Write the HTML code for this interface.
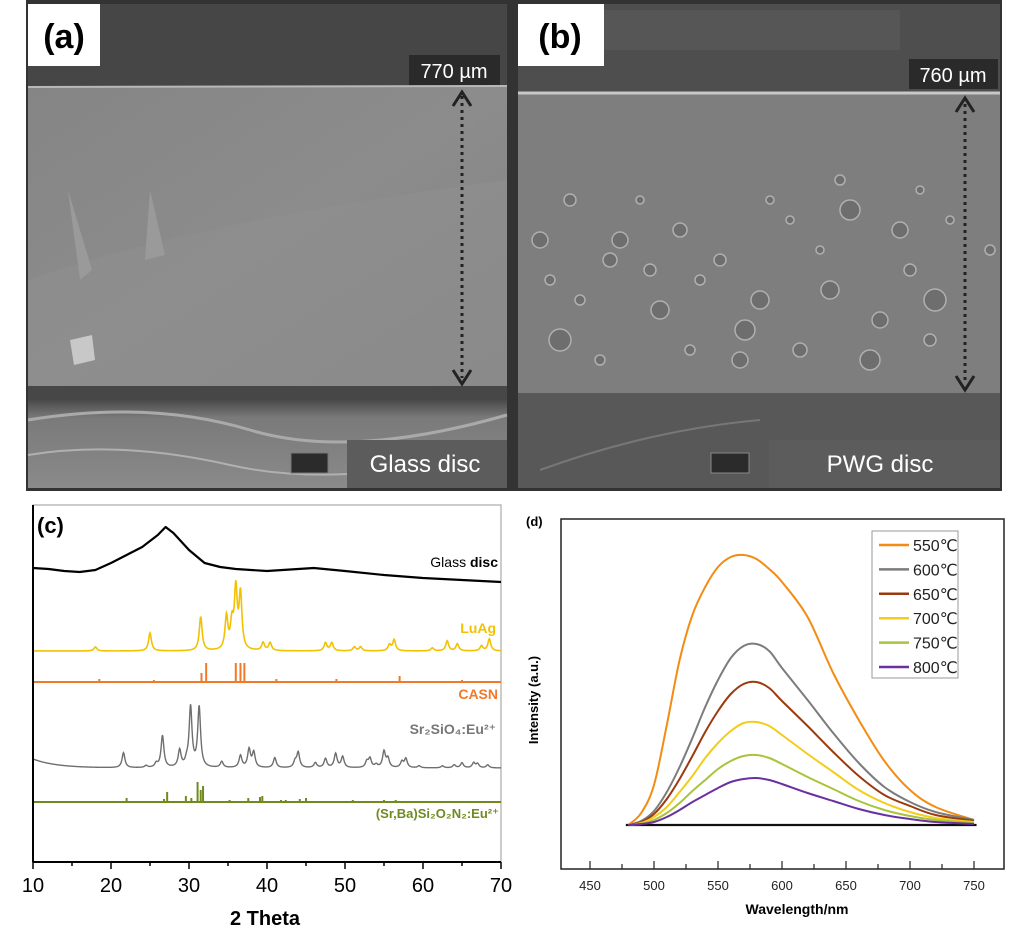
<!DOCTYPE html>
<html><head><meta charset="utf-8"><style>
html,body{margin:0;padding:0;background:#fff;width:1017px;height:941px;overflow:hidden}
svg{display:block}
text{font-family:"Liberation Sans","DejaVu Sans",sans-serif}
</style></head><body>
<svg id="fig" width="1017" height="941" viewBox="0 0 1017 941" xmlns="http://www.w3.org/2000/svg">
<defs>
<linearGradient id="gDiscA" x1="0" y1="0" x2="1" y2="1"><stop offset="0" stop-color="#858585"/><stop offset="0.5" stop-color="#8c8c8c"/><stop offset="1" stop-color="#828282"/></linearGradient>
<linearGradient id="gBotA" x1="0" y1="0" x2="0" y2="1"><stop offset="0" stop-color="#4a4a4a"/><stop offset="0.2" stop-color="#7a7a7a"/><stop offset="1" stop-color="#8a8a8a"/></linearGradient>
</defs>
<!-- SEM panel frame -->
<rect x="26" y="0" width="976" height="491" fill="#333"/>
<!-- Panel a -->
<g>
<rect x="28" y="4" width="479" height="484" fill="#555"/>
<rect x="28" y="4" width="479" height="84" fill="#464646"/>
<rect x="28" y="86" width="479" height="303" fill="url(#gDiscA)"/>
<line x1="28" y1="87" x2="507" y2="86" stroke="#b8b8b8" stroke-width="2"/>
<path d="M28 280 Q200 220 507 180 L507 389 L28 389 Z" fill="#8f8f8f" opacity="0.6"/>
<polygon points="68,190 80,280 92,270" fill="#9a9a9a"/>
<polygon points="150,190 145,260 165,255" fill="#9a9a9a"/>
<polygon points="70,340 92,335 95,360 74,365" fill="#c8c8c8"/>
<rect x="28" y="386" width="479" height="14" fill="#474747"/>
<rect x="28" y="400" width="479" height="88" fill="url(#gBotA)"/>
<path d="M28 420 Q150 400 250 430 T507 415" stroke="#aaa" stroke-width="3" fill="none"/>
<path d="M28 455 Q120 440 230 465 T507 450" stroke="#b0b0b0" stroke-width="2" fill="none"/>
</g>
<rect x="28" y="4" width="72" height="62" fill="#fff"/>
<text x="64" y="48" font-size="34" font-weight="bold" text-anchor="middle" font-family="DejaVu Sans">(a)</text>
<rect x="409" y="55" width="91" height="30" fill="#2a2a2a"/>
<text x="454" y="78" font-size="20" fill="#fff" text-anchor="middle" font-family="DejaVu Sans">770 µm</text>
<g>
<line x1="462" y1="96" x2="462" y2="378" stroke="#222" stroke-width="3" stroke-dasharray="3,4"/>
<polyline points="453,106 462,92 471,106" stroke="#222" stroke-width="3" fill="none"/>
<polyline points="453,370 462,384 471,370" stroke="#222" stroke-width="3" fill="none"/>
</g>
<rect x="347" y="440" width="160" height="48" fill="#5c5c5c"/>
<text x="425" y="472" font-size="24" fill="#fff" text-anchor="middle" font-family="DejaVu Sans">Glass disc</text>
<rect x="291" y="453" width="37" height="20" fill="#2b2b2b" stroke="#777"/>

<!-- Panel b -->
<g id="panelB">
<rect x="518" y="4" width="482" height="484" fill="#505050"/>
<rect x="518" y="4" width="482" height="90" fill="#4e4e4e"/>
<rect x="600" y="10" width="300" height="40" fill="#5a5a5a" opacity="0.7"/>
<rect x="518" y="92" width="482" height="301" fill="#7e7e7e"/>
<line x1="518" y1="93" x2="1000" y2="93" stroke="#c8c8c8" stroke-width="3"/>
<rect x="518" y="393" width="482" height="95" fill="#585858"/>
<path d="M540 470 Q650 430 760 420" stroke="#777" stroke-width="2" fill="none"/>
</g>
<rect x="518" y="4" width="86" height="62" fill="#fff"/>
<text x="560" y="48" font-size="34" font-weight="bold" text-anchor="middle" font-family="DejaVu Sans">(b)</text>
<rect x="909" y="59" width="89" height="30" fill="#2a2a2a"/>
<text x="953" y="82" font-size="20" fill="#fff" text-anchor="middle" font-family="DejaVu Sans">760 µm</text>
<g>
<line x1="965" y1="104" x2="965" y2="382" stroke="#222" stroke-width="3" stroke-dasharray="3,4"/>
<polyline points="956,112 965,98 974,112" stroke="#222" stroke-width="3" fill="none"/>
<polyline points="956,376 965,390 974,376" stroke="#222" stroke-width="3" fill="none"/>
</g>
<rect x="769" y="440" width="231" height="48" fill="#5c5c5c"/>
<text x="880" y="472" font-size="24" fill="#fff" text-anchor="middle" font-family="DejaVu Sans">PWG disc</text>
<rect x="711" y="453" width="38" height="20" fill="#2b2b2b" stroke="#888"/>

<!-- Panel c -->
<g id="panelC">
<rect x="33" y="505" width="468" height="357" fill="#fff" stroke="#999" stroke-width="1"/>
<text x="37" y="533" font-size="22" font-weight="bold" font-family="DejaVu Sans">(c)</text>
</g>
<!-- Panel d -->
<g id="panelD">
<rect x="561" y="519" width="443" height="350" fill="#fff" stroke="#222" stroke-width="1.5"/>
<text x="526" y="526" font-size="13" font-weight="bold" font-family="DejaVu Sans">(d)</text>
</g>
</svg>
<script>
// ---------- Panel c data ----------
const xrdTicks = [10,20,30,40,50,60,70];
const glassTheta = [10,12,14,16,18,20,22,24,26,27,28,30,32,34,36,40,44,46,50,55,60,65,70];
const glassVals  = [14,13,11,10,12,19,27,35,47,55,49,32,19,15,13,11,13,14,11,7,4,2,0];
const luagPos = [18,25,31.5,34.8,35.5,36,36.6,39.5,40.4,47.5,48.3,51.2,52,55.7,56.3,61.2,63.1,64.4,67.5,68.5];
const luagInt = [4,18,34,33,25,59,55,8,8,8,8,4,4,6,11,3,10,7,5,12];
const casnPos = [18.5,25.5,31.6,32.2,36,36.6,37.1,41.2,48.9,57,65];
const casnInt = [3,2,9,19,19,19,19,3,3,6,2];
const srsiPos = [21.6,24.5,25.8,26.6,28.8,29.7,30.2,31.3,34.2,36.6,37.7,38.3,41,43.6,44,46.2,47.5,48.8,49.7,52.8,53.2,54,55,55.5,57.3,57.8,59.5,62.5,64,65,66.5,67,68.3];
const srsiInt = [15,2,4,32,17,5,60,60,6,12,18,15,10,6,15,5,9,14,11,6,9,3,16,9,6,9,2,2,3,5,5,4,3];
const sbsonPos = [22,26.8,27.2,29.6,30.3,31.1,31.5,31.8,35.2,37.6,39.1,39.4,41.8,42.4,44.2,45,48.3,51,55,56.5,69];
const sbsonInt = [4,3,10,6,4,20,12,16,2,4,5,6,2,2,3,4,1,2,2,2,1];

// ---------- Panel d data ----------
const wlTicks = [450,500,550,600,650,700,750];
const wl = [480,490,500,510,520,530,540,550,560,570,580,590,600,620,640,660,680,700,720,750];
const s550 = [0,12,40,100,165,210,238,258,268,270,266,256,243,208,152,105,64,35,18,5];
const s600 = [0,4,14,33,58,87,118,145,167,179,181,174,157,125,92,62,38,23,13,5];
const s650 = [0,3,11,26,46,69,93,114,131,141,143,137,124,99,73,49,30,19,10,4];
const s700 = [0,2,8,18,33,49,67,82,94,102,103,99,90,71,53,35,22,13,7,3];
const s750 = [0,1,5,12,22,34,45,56,64,69,70,67,61,48,36,24,15,9,5,2];
const s800 = [0,1,3,8,15,23,30,37,43,46,47,45,41,32,24,16,10,6,3,1];
const seriesNames = ['550℃','600℃','650℃','700℃','750℃','800℃'];

const NS='http://www.w3.org/2000/svg';
function mk(tag, attrs, parent){const e=document.createElementNS(NS,tag);for(const k in attrs)e.setAttribute(k,attrs[k]);parent.appendChild(e);return e;}

// ----- Panel c -----
const gC=document.getElementById('panelC');
const cx=t=>33+(t-10)*(468/60);
function peakPath(pos,ints,base,scale,startLift){
  let d='';
  for(let t=10;t<=70.001;t+=0.05){
    let v=0;
    for(let i=0;i<pos.length;i++){const w=0.22;const dx=(t-pos[i])/w;v+=ints[i]/(1+dx*dx);}
    let lift=startLift?startLift*Math.exp(-(t-10)/3):0;
    const y=base-(v*scale)-lift;
    d+=(d?'L':'M')+cx(t).toFixed(2)+' '+y.toFixed(2);
  }
  return d;
}
function sticks(pos,ints,base,color,name){
  const l=mk('line',{x1:cx(10),y1:base,x2:cx(70),y2:base,stroke:color,'stroke-width':2},gC);
  
  
  for(let i=0;i<pos.length;i++){
    const s=mk('line',{x1:cx(pos[i]),y1:base,x2:cx(pos[i]),y2:base-ints[i],stroke:color,'stroke-width':2},gC);
    
    
  }
}
// glass
{
  let d='';
  for(let i=0;i<glassTheta.length;i++){d+=(i?'L':'M')+cx(glassTheta[i]).toFixed(2)+' '+(582-glassVals[i]).toFixed(2);}
  const p=mk('path',{d:d,stroke:'#000','stroke-width':2.2,fill:'none','stroke-linejoin':'round'},gC);
  
  
}
{
  const p=mk('path',{d:peakPath(luagPos,luagInt,651,1,0),stroke:'#f2c200','stroke-width':1.6,fill:'none'},gC);
  
  
}
sticks(casnPos,casnInt,682,'#f07a2a','casn');
{
  const p=mk('path',{d:peakPath(srsiPos,srsiInt,768,1,9),stroke:'#6e6e6e','stroke-width':1.4,fill:'none'},gC);
  
  
}
sticks(sbsonPos,sbsonInt,802,'#6f8a1e','sbson');
const cLabels=[['Glass ','disc',498,567,'#000',14],['LuAg','',496,633,'#f2c200',14],['CASN','',498,699,'#f07a2a',14],['Sr₂SiO₄:Eu²⁺','',496,734,'#777',14],['(Sr,Ba)Si₂O₂N₂:Eu²⁺','',499,818,'#6f8a1e',13]];
cLabels.forEach((L,i)=>{
  const t=mk('text',{x:L[2],y:L[3],'font-size':L[5],'text-anchor':'end',fill:L[4],'font-weight':i?'bold':'normal','font-family':'DejaVu Sans'},gC);
  t.textContent=L[0];
  if(L[1]){const ts=mk('tspan',{'font-weight':'bold'},t);ts.textContent=L[1];}
  
  
});
{
  const ax=mk('line',{x1:33,y1:862,x2:501,y2:862,stroke:'#000','stroke-width':2},gC);
  
  
  const ay=mk('line',{x1:33,y1:505,x2:33,y2:862,stroke:'#000','stroke-width':2},gC);
  
  
  for(let t=10;t<=70;t+=5){
    const tk=mk('line',{x1:cx(t),y1:862,x2:cx(t),y2:t%10===0?869:866,stroke:'#000','stroke-width':1.5},gC);
    
    
  }
  xrdTicks.forEach(t=>{
    const tl=mk('text',{x:cx(t),y:892,'font-size':20,'text-anchor':'middle'},gC);
    tl.textContent=t;
    
    
  });
  const xt=mk('text',{x:265,y:925,'font-size':20,'font-weight':'bold','text-anchor':'middle','font-family':'DejaVu Sans'},gC);
  xt.textContent='2 Theta';
  
  
}

// ----- Panel d -----
const gD=document.getElementById('panelD');
const dx=w=>590+(w-450)*1.28;
const dy=v=>825-v;
const allSeries=[s550,s600,s650,s700,s750,s800];
const colors=['#f28c12','#7c7c7c','#9b3a0e','#f2cd1a','#a8c43a','#6a2fa0'];
{
  const b=mk('line',{x1:dx(478),y1:dy(0),x2:dx(752),y2:dy(0),stroke:'#111','stroke-width':2.2},gD);
  
  
}
function smoothPath(xs,ys){
  let pts=xs.map((x,i)=>[dx(x),dy(ys[i])]);
  let d='M'+pts[0][0]+' '+pts[0][1];
  for(let i=0;i<pts.length-1;i++){
    const p0=pts[i-1]||pts[i],p1=pts[i],p2=pts[i+1],p3=pts[i+2]||p2;
    const c1=[p1[0]+(p2[0]-p0[0])/6,p1[1]+(p2[1]-p0[1])/6];
    const c2=[p2[0]-(p3[0]-p1[0])/6,p2[1]-(p3[1]-p1[1])/6];
    d+='C'+c1[0].toFixed(2)+' '+c1[1].toFixed(2)+' '+c2[0].toFixed(2)+' '+c2[1].toFixed(2)+' '+p2[0].toFixed(2)+' '+p2[1].toFixed(2);
  }
  return d;
}
allSeries.forEach((s,i)=>{
  const p=mk('path',{d:smoothPath(wl,s),stroke:colors[i],'stroke-width':2,fill:'none'},gD);
  
  
});
for(let w=450;w<=750;w+=25){
  const tk=mk('line',{x1:dx(w),y1:869,x2:dx(w),y2:w%50===0?861:864,stroke:'#222','stroke-width':1.2},gD);
  
  
}
wlTicks.forEach(w=>{
  const tl=mk('text',{x:dx(w),y:890,'font-size':13,'text-anchor':'middle',fill:'#222'},gD);
  tl.textContent=w;
  
  
});
{
  const xt=mk('text',{x:797,y:914,'font-size':14,'font-weight':'bold','text-anchor':'middle'},gD);
  xt.textContent='Wavelength/nm';
  
  
  const yt=mk('text',{x:0,y:0,'font-size':13,'font-weight':'bold','text-anchor':'middle',transform:'translate(538,700) rotate(-90)','font-family':'DejaVu Sans'},gD);
  yt.textContent='Intensity (a.u.)';
  
  
  const lg=mk('rect',{x:872,y:531,width:86,height:147,fill:'#fff',stroke:'#999','stroke-width':1},gD);
  
  
  seriesNames.forEach((n,i)=>{
    const y=545+i*24.4;
    const ll=mk('line',{x1:879,y1:y,x2:909,y2:y,stroke:colors[i],'stroke-width':2.5},gD);
    
    
    const lt=mk('text',{x:913,y:y+6,'font-size':16,fill:'#222','font-family':'Liberation Sans, Noto Sans CJK SC, sans-serif'},gD);
    lt.textContent=n;
    
    
  });
}

// decorative bubbles in panel b
const gB=document.getElementById('panelB');
const bubbleX=[540,560,580,610,640,660,690,720,745,770,800,830,850,880,910,935,950,990,570,620,700,760,820,870,930,600,680,790,900,550,650,740,840,920];
const bubbleY=[240,340,300,260,200,310,350,260,330,200,350,290,210,320,270,300,220,250,200,240,280,300,250,360,340,360,230,220,230,280,270,360,180,190];
const bubbleR=[8,11,5,7,4,9,5,6,10,4,7,9,10,8,6,11,4,5,6,8,5,9,4,10,6,5,7,4,8,5,6,8,5,4];
for(let i=0;i<bubbleX.length;i++){
  const c=mk('circle',{cx:bubbleX[i],cy:bubbleY[i],r:bubbleR[i],fill:'#6e6e6e',stroke:'#b0b0b0','stroke-width':1.5},gB);
  
  
}
</script>
</body></html>
